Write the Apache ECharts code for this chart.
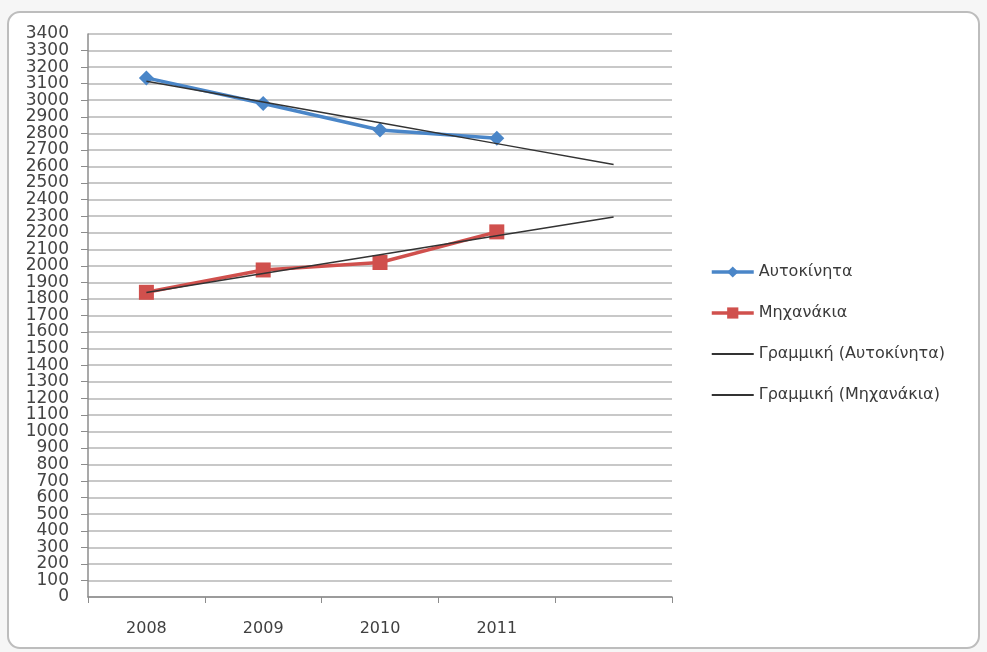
<!DOCTYPE html>
<html>
<head>
<meta charset="utf-8">
<script src="https://cdn.jsdelivr.net/npm/echarts@6/dist/echarts.min.js"></script>
<style>
html,body{margin:0;padding:0;background:#f6f6f6;}
#chart{width:987px;height:652px;}
</style>
</head>
<body>
<div id="chart"></div>
<script>
const categories = ['2008', '2009', '2010', '2011', ''];
const carName = 'Αυτοκίνητα';
const bikeName = 'Μηχανάκια';
const carTrendName = 'Γραμμική (Αυτοκίνητα)';
const bikeTrendName = 'Γραμμική (Μηχανάκια)';
const cars = [3135, 2980, 2820, 2770];
const bikes = [1840, 1975, 2020, 2205];
const yMin = 0, yMax = 3400, yStep = 100;

// Linear (least squares) trendline, forecast one period forward, like Excel
function trend(vals, n) {
  const m = vals.length;
  let sx = 0, sy = 0, sxy = 0, sxx = 0;
  vals.forEach((v, i) => { sx += i; sy += v; sxy += i * v; sxx += i * i; });
  const b = (m * sxy - sx * sy) / (m * sxx - sx * sx);
  const a = (sy - b * sx) / m;
  const out = [];
  for (let i = 0; i < n; i++) out.push(+(a + b * i).toFixed(2));
  return out;
}

const chart = echarts.init(document.getElementById('chart'), null, {renderer: 'canvas'});
const font = 'DejaVu Sans';
const yLabelStyle = {margin: 19, fontFamily: font, fontSize: 17, color: '#444', lineHeight: 14};
chart.setOption({
  backgroundColor: '#f6f6f6',
  animation: false,
  graphic: [{
    type: 'rect', z: -10, silent: true,
    shape: {x: 8, y: 12, width: 971, height: 636, r: 12},
    style: {fill: '#ffffff', stroke: '#bdbdbd', lineWidth: 2}
  }],
  grid: {left: 88, right: 315, top: 34, bottom: 55, containLabel: false},
  legend: {
    orient: 'vertical', left: 705, top: 259, itemGap: 25,
    itemWidth: 42, itemHeight: 14,
    textStyle: {fontFamily: font, fontSize: 16, color: '#3a3a3a'},
    data: [
      {name: carName, lineStyle: {width: 3.5}},
      {name: bikeName, lineStyle: {width: 3.5}},
      {name: carTrendName, itemStyle: {opacity: 0}, lineStyle: {width: 2}},
      {name: bikeTrendName, itemStyle: {opacity: 0}, lineStyle: {width: 2}}
    ]
  },
  xAxis: {
    type: 'category', data: categories, boundaryGap: true,
    axisLine: {lineStyle: {color: '#8c8c8c', width: 1.5}},
    axisTick: {show: true, interval: 0, length: 6, lineStyle: {color: '#8c8c8c'}},
    axisLabel: {margin: 24, fontFamily: font, fontSize: 16, color: '#404040'},
    splitLine: {show: false}
  },
  yAxis: [
    {
      type: 'value', min: yMin, max: yMax, interval: yStep, position: 'left',
      axisLine: {show: true, lineStyle: {color: '#8c8c8c', width: 1.5}},
      axisTick: {show: true, length: 7, lineStyle: {color: '#8c8c8c'}},
      axisLabel: Object.assign({}, yLabelStyle, {formatter: v => String(v)}),
      splitLine: {show: true, lineStyle: {color: '#c8c8c8', width: 2}}
    },
    {
      type: 'value', min: yMin, max: yMax, interval: yStep, position: 'left',
      axisLine: {show: false}, axisTick: {show: false}, splitLine: {show: false},
      axisLabel: Object.assign({}, yLabelStyle, {
        showMinLabel: true, showMaxLabel: true,
        formatter: v => (v === yMin || v === yMax) ? String(v) : ''
      })
    }
  ],
  series: [
    {
      name: carName, type: 'line', data: cars,
      symbol: 'diamond', symbolSize: 15,
      lineStyle: {color: '#4a86c8', width: 3.5},
      itemStyle: {color: '#4a86c8'}, z: 3
    },
    {
      name: bikeName, type: 'line', data: bikes,
      symbol: 'rect', symbolSize: 15,
      lineStyle: {color: '#d0504d', width: 3.5},
      itemStyle: {color: '#d0504d'}, z: 3
    },
    {
      name: carTrendName, type: 'line', data: trend(cars, categories.length),
      symbol: 'none', lineStyle: {color: '#333333', width: 1.5},
      itemStyle: {color: '#333333'}, z: 4
    },
    {
      name: bikeTrendName, type: 'line', data: trend(bikes, categories.length),
      symbol: 'none', lineStyle: {color: '#333333', width: 1.5},
      itemStyle: {color: '#333333'}, z: 4
    }
  ]
});
</script>
</body>
</html>
